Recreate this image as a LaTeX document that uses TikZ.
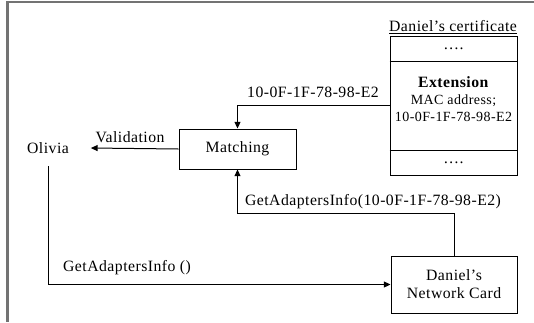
\documentclass[tikz,border=0pt]{standalone}
\usepackage{fontspec}
\setmainfont[LetterSpace=3]{Liberation Serif}
\usetikzlibrary{arrows.meta}

\begin{document}
\begin{tikzpicture}[x=0.75pt,y=-0.75pt,
        font=\fontsize{11.8}{13.5}\selectfont,
        >={Triangle[length=5pt,width=4.5pt]},
        box/.style={draw, line width=0.75pt, align=center, inner sep=0pt},
        conn/.style={->, line width=0.75pt}]
        \useasboundingbox (0,0) rectangle (534,322);

        % outer frame
        \draw[gray!90!black, line width=1.6pt] (534,2) -- (7.5,2) -- (7.5,322);

        % certificate
        \node[box, minimum width=95.25pt, minimum height=104.25pt] (cert) at (453.5,105.5) {};
        \node (certtitle) at (453,27) {\underline{Daniel's certificate}};
        \draw[line width=0.75pt] (cert.west |- 0,61) -- (cert.east |- 0,61);
        \draw[line width=0.75pt] (cert.west |- 0,150) -- (cert.east |- 0,150);
        \node (dotstop) at (453.5,49) {\dots.};
        \node (ext) at (453.5,82) {\textbf{Extension}};
        \node[font=\fontsize{10.5}{12}\selectfont] (mac) at (453.5,101) {MAC address;};
        \node[font=\fontsize{10.5}{12}\selectfont] (macval) at (453.5,117) {10-0F-1F-78-98-E2};
        \node (dotsbot) at (453.5,163) {\dots.};

        % boxes
        \node[box, minimum width=87.75pt, minimum height=30pt] (match) at (237.5,149) {Matching};
        \node[box, minimum width=94.5pt, minimum height=42.75pt] (card) at (454,284.5) {Daniel's\\Network Card};
        \node (olivia) at (48,148) {Olivia};

        % connectors
        \coordinate (ret) at (0,213);
        \draw[conn] (cert.west |- 0,105) -| (match.north);
        \draw[conn] (match.west) -- ([xshift=13pt]olivia.east);
        \draw[conn] (card.north) -- (card.north |- ret) -| (match.south);
        \draw[conn] ([yshift=-6pt]olivia.south) |- (card.west);

        % labels
        \node (lmac) at (313,92) {10-0F-1F-78-98-E2};
        \node (lval) at (130,137) {Validation};
        \node (lgetmac) at (373,202) {GetAdaptersInfo(10-0F-1F-78-98-E2)};
        \node (lget) at (127,268) {GetAdaptersInfo ()};
    \end{tikzpicture}
\end{document}
